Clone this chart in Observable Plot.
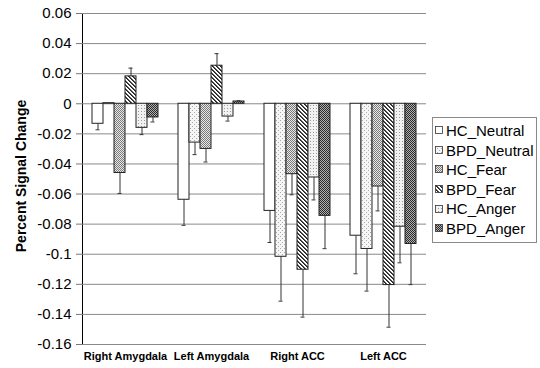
<!DOCTYPE html>
<html>
<head>
<meta charset="utf-8">
<script src="https://cdn.jsdelivr.net/npm/d3@7"></script>
<script src="https://cdn.jsdelivr.net/npm/@observablehq/plot@0.6"></script>
<style>
  html, body { margin: 0; padding: 0; background: #fff; }
  body { font-family: "Liberation Sans", Arial, sans-serif; }
  #wrap { position: relative; width: 540px; height: 368px; overflow: hidden; }
  #ylabel {
    position: absolute; left: 21px; top: 176px;
    transform: translate(-50%, -50%) rotate(-90deg);
    font-weight: bold; font-size: 14px; white-space: nowrap; color: #000;
  }
  #legend {
    position: absolute; left: 432px; top: 117px; width: 105px;
    border: 1px solid #8a8a8a; box-sizing: border-box;
    padding: 3px 0 3px 2px; background: #fff;
  }
  #legend .row { height: 19.6px; line-height: 19.6px; font-size: 15px; white-space: nowrap; display: flex; align-items: center; }
  #legend svg { margin-right: 2px; flex: none; }
  svg [aria-label^="y-axis"] line, svg [aria-label^="y-axis"] path { stroke: #777; }
  svg [aria-label^="y-axis"] text { font-size: 15px; }
  svg [aria-label^="fx-axis"] text { font-weight: bold; font-size: 11px; }
</style>
</head>
<body>
<svg width="0" height="0" style="position:absolute;width:0;height:0">
  <defs>
    <pattern id="pHCN" width="4" height="4" patternUnits="userSpaceOnUse">
      <rect width="4" height="4" fill="#ffffff"/>
    </pattern>
    <pattern id="pBPDN" width="4" height="4" patternUnits="userSpaceOnUse">
      <rect width="4" height="4" fill="#f6f6f6"/>
      <rect x="0" y="0" width="1" height="1" fill="#a8a8a8"/>
      <rect x="2" y="2" width="1" height="1" fill="#a8a8a8"/>
    </pattern>
    <pattern id="pHCF" width="2" height="2" patternUnits="userSpaceOnUse">
      <rect width="2" height="2" fill="#e8e8e8"/>
      <rect x="0" y="0" width="1" height="1" fill="#7a7a7a"/>
      <rect x="1" y="1" width="1" height="1" fill="#7a7a7a"/>
    </pattern>
    <pattern id="pBPDF" width="4" height="4" patternUnits="userSpaceOnUse">
      <rect width="4" height="4" fill="#ffffff"/>
      <rect x="0" y="0" width="1" height="1" fill="#222"/>
      <rect x="1" y="1" width="1" height="1" fill="#222"/>
      <rect x="2" y="2" width="1" height="1" fill="#222"/>
      <rect x="3" y="3" width="1" height="1" fill="#222"/>
      <rect x="1" y="0" width="1" height="1" fill="#555"/>
      <rect x="2" y="1" width="1" height="1" fill="#555"/>
      <rect x="3" y="2" width="1" height="1" fill="#555"/>
      <rect x="0" y="3" width="1" height="1" fill="#555"/>
    </pattern>
    <pattern id="pHCA" width="3" height="3" patternUnits="userSpaceOnUse">
      <rect width="3" height="3" fill="#f2f2f2"/>
      <rect x="0" y="0" width="1" height="1" fill="#9a9a9a"/>
    </pattern>
    <pattern id="pBPDA" width="2" height="2" patternUnits="userSpaceOnUse">
      <rect width="2" height="2" fill="#b0b0b0"/>
      <rect x="0" y="0" width="1" height="1" fill="#2a2a2a"/>
      <rect x="1" y="1" width="1" height="1" fill="#2a2a2a"/>
    </pattern>
  </defs>
</svg>
<div id="wrap">
  <div id="chart"></div>
  <div id="ylabel">Percent Signal Change</div>
  <div id="legend"></div>
</div>
<script>
// ---- data ----
const regions = ["Right Amygdala", "Left Amygdala", "Right ACC", "Left ACC"];
const seriesNames = ["HC_Neutral", "BPD_Neutral", "HC_Fear", "BPD_Fear", "HC_Anger", "BPD_Anger"];
const yTicks = [0.06, 0.04, 0.02, 0, -0.02, -0.04, -0.06, -0.08, -0.1, -0.12, -0.14, -0.16];

const hcNeutral   = [-0.0133, -0.0638, -0.0712, -0.0877];
const bpdNeutral  = [ 0.0004, -0.0258, -0.1017, -0.0965];
const hcFear      = [-0.0460, -0.0300, -0.0468, -0.0550];
const bpdFear     = [ 0.0182,  0.0253, -0.1103, -0.1205];
const hcAnger     = [-0.0160, -0.0085, -0.0490, -0.0817];
const bpdAnger    = [-0.0091,  0.0015, -0.0745, -0.0932];

const hcNeutralErr  = [0.0040, 0.0170, 0.0210, 0.0253];
const bpdNeutralErr = [0.0000, 0.0080, 0.0295, 0.0280];
const hcFearErr     = [0.0136, 0.0087, 0.0137, 0.0162];
const bpdFearErr    = [0.0055, 0.0080, 0.0315, 0.0280];
const hcAngerErr    = [0.0045, 0.0030, 0.0149, 0.0240];
const bpdAngerErr   = [0.0030, 0.0005, 0.0218, 0.0270];

const patternFills = ["url(#pHCN)", "url(#pBPDN)", "url(#pHCF)", "url(#pBPDF)", "url(#pHCA)", "url(#pBPDA)"];

const values = [hcNeutral, bpdNeutral, hcFear, bpdFear, hcAnger, bpdAnger];
const errors = [hcNeutralErr, bpdNeutralErr, hcFearErr, bpdFearErr, hcAngerErr, bpdAngerErr];

const data = [];
regions.forEach((region, i) => {
  seriesNames.forEach((s, j) => {
    const v = values[j][i], e = errors[j][i];
    data.push({region, series: s, value: v, err: e, end: v + (v >= 0 ? e : -e)});
  });
});

const chart = Plot.plot({
  width: 540,
  height: 368,
  marginLeft: 82,
  marginRight: 114,
  marginTop: 13,
  marginBottom: 24,
  style: {fontFamily: "'Liberation Sans', Arial, sans-serif", fontSize: "14px", color: "#000", background: "#fff", overflow: "visible"},
  facet: {data, x: "region"},
  fx: {domain: regions, paddingInner: 0, paddingOuter: 0, label: null, tickSize: 0, tickPadding: 8, axis: "bottom"},
  x: {domain: seriesNames, axis: null, paddingInner: 0, paddingOuter: 0.739},
  y: {domain: [-0.16, 0.06], ticks: yTicks, tickFormat: d => String(d), label: null, tickSize: 6, tickPadding: 5, line: true},
  color: {domain: seriesNames, range: patternFills, type: "ordinal"},
  marks: [
    Plot.ruleY(yTicks, {stroke: "#8a8a8a", strokeWidth: 1}),
    Plot.barY(data, {x: "series", y: "value", fill: "series", stroke: "#222", strokeWidth: 1}),
    Plot.ruleX(data, {x: "series", y1: "value", y2: "end", stroke: "#333", strokeWidth: 1, filter: d => d.err > 0}),
    Plot.tickY(data, {x: "series", y: "end", stroke: "#333", strokeWidth: 1, inset: 3.5, filter: d => d.err > 0})
  ]
});
document.getElementById("chart").appendChild(chart);

// legend
const legend = d3.select("#legend");
seriesNames.forEach((s, j) => {
  const row = legend.append("div").attr("class", "row");
  const sw = row.append("svg").attr("width", 9).attr("height", 9);
  sw.append("rect").attr("x", 0.5).attr("y", 0.5).attr("width", 7).attr("height", 7)
    .attr("fill", patternFills[j]).attr("stroke", "#333").attr("stroke-width", 0.8);
  row.append("span").text(s);
});
</script>
</body>
</html>
